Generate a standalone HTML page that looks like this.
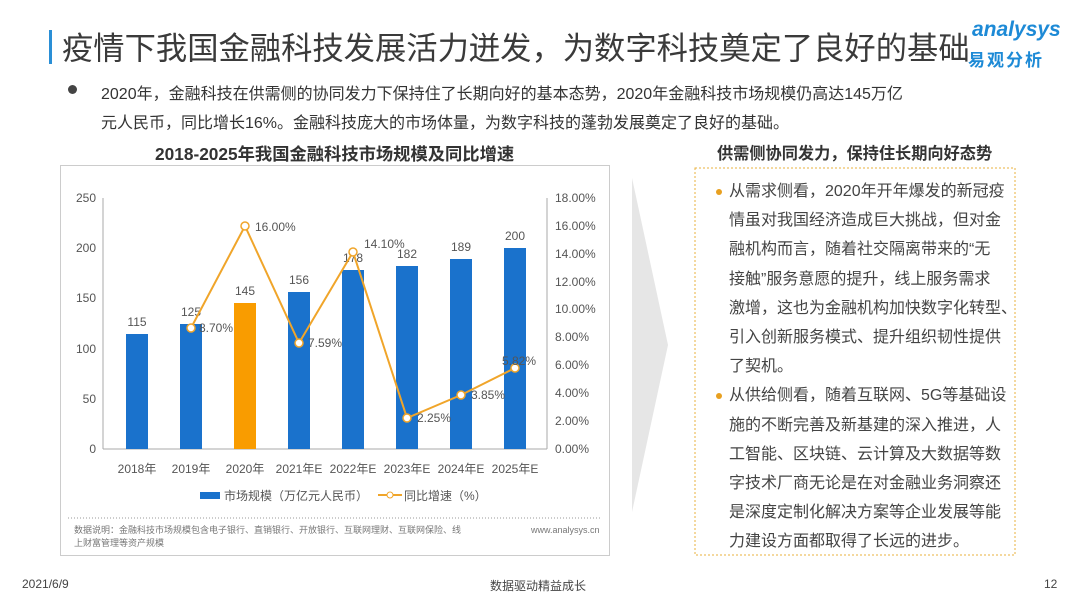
<!DOCTYPE html>
<html><head><meta charset="utf-8"><style>
body{margin:0;width:1080px;height:608px;background:#fff;position:relative;overflow:hidden;font-family:"Liberation Sans","Noto Sans CJK SC",sans-serif;color:#333}
.a{position:absolute;white-space:nowrap}
</style></head><body>
<div class="a" style="left:49px;top:30px;width:3px;height:34px;background:#2a8fd6"></div>
<div class="a" style="left:62px;top:24px;font-size:31.3px;color:#3a3a3a">疫情下我国金融科技发展活力迸发，为数字科技奠定了良好的基础</div>
<div class="a" style="left:972px;top:18px;font-size:21px;font-style:italic;color:#1d8ad6;font-weight:bold">analysys</div>
<div class="a" style="left:968px;top:46px;font-size:17px;color:#1d8ad6;font-weight:bold;letter-spacing:2px">易观分析</div>
<div class="a" style="left:68px;top:85px;width:9px;height:9px;border-radius:50%;background:#444"></div>
<div class="a" style="left:101px;top:80px;font-size:16px;line-height:29px;color:#333">2020年，金融科技在供需侧的协同发力下保持住了长期向好的基本态势，2020年金融科技市场规模仍高达145万亿<br>元人民币，同比增长16%。金融科技庞大的市场体量，为数字科技的蓬勃发展奠定了良好的基础。</div>
<div class="a" style="left:155px;top:140px;font-size:17.3px;font-weight:bold;color:#333">2018-2025年我国金融科技市场规模及同比增速</div>
<div class="a" style="left:60px;top:165px;width:548px;height:389px;border:1px solid #ccc"></div>
<svg class="a" style="left:0;top:0" width="1080" height="608">
<polygon points="632,178 668,345 632,512" fill="#e6e6e6"/>
<g font-family="Liberation Sans,sans-serif" font-size="12" fill="#555">
<line x1="103" y1="198" x2="103" y2="449" stroke="#aaa"/>
<line x1="547" y1="198" x2="547" y2="449" stroke="#aaa"/>
<line x1="103" y1="449" x2="547" y2="449" stroke="#aaa"/>
<g text-anchor="end"><text x="96" y="453">0</text><text x="96" y="403">50</text><text x="96" y="353">100</text><text x="96" y="302">150</text><text x="96" y="252">200</text><text x="96" y="202">250</text></g>
<g><text x="555" y="453">0.00%</text><text x="555" y="425">2.00%</text><text x="555" y="397">4.00%</text><text x="555" y="369">6.00%</text><text x="555" y="341">8.00%</text><text x="555" y="313">10.00%</text><text x="555" y="286">12.00%</text><text x="555" y="258">14.00%</text><text x="555" y="230">16.00%</text><text x="555" y="202">18.00%</text></g>
<g fill="#1a72cc">
<rect x="126" y="334" width="22" height="115"/><rect x="180" y="324" width="22" height="125"/>
<rect x="234" y="303" width="22" height="146" fill="#f99c00"/>
<rect x="288" y="292" width="22" height="157"/><rect x="342" y="270" width="22" height="179"/>
<rect x="396" y="266" width="22" height="183"/><rect x="450" y="259" width="22" height="190"/><rect x="504" y="248" width="22" height="201"/></g>
<g text-anchor="middle"><text x="137" y="326">115</text><text x="191" y="316">125</text><text x="245" y="295">145</text><text x="299" y="284">156</text><text x="353" y="262">178</text><text x="407" y="258">182</text><text x="461" y="251">189</text><text x="515" y="240">200</text>
<text x="137" y="473">2018年</text><text x="191" y="473">2019年</text><text x="245" y="473">2020年</text><text x="299" y="473">2021年E</text><text x="353" y="473">2022年E</text><text x="407" y="473">2023年E</text><text x="461" y="473">2024年E</text><text x="515" y="473">2025年E</text></g>
<polyline points="191,328 245,226 299,343 353,252 407,418 461,395 515,368" fill="none" stroke="#f0a52a" stroke-width="2"/>
<g fill="#fff" stroke="#f0a52a" stroke-width="1.5"><circle cx="191" cy="328" r="4"/><circle cx="245" cy="226" r="4"/><circle cx="299" cy="343" r="4"/><circle cx="353" cy="252" r="4"/><circle cx="407" cy="418" r="4"/><circle cx="461" cy="395" r="4"/><circle cx="515" cy="368" r="4"/></g>
<text x="199" y="332">8.70%</text><text x="255" y="231">16.00%</text><text x="308" y="347">7.59%</text><text x="364" y="248">14.10%</text><text x="417" y="422">2.25%</text><text x="471" y="399">3.85%</text><text x="502" y="365">5.82%</text>
<rect x="200" y="492" width="20" height="7" fill="#1a72cc"/><text x="224" y="500">市场规模（万亿元人民币）</text>
<line x1="378" y1="495" x2="402" y2="495" stroke="#f0a52a" stroke-width="2"/><circle cx="390" cy="495" r="3" fill="#fff" stroke="#f0a52a"/><text x="404" y="500">同比增速（%）</text>
<line x1="68" y1="518" x2="602" y2="518" stroke="#999" stroke-dasharray="1,2"/>
<text x="74" y="533" font-size="9" fill="#777">数据说明：金融科技市场规模包含电子银行、直销银行、开放银行、互联网理财、互联网保险、线</text>
<text x="74" y="546" font-size="9" fill="#777">上财富管理等资产规模</text>
<text x="531" y="533" font-size="9" fill="#777">www.analysys.cn</text>
</g>
<rect x="695" y="168" width="320" height="387" fill="none" stroke="#e8b23c" stroke-dasharray="2,2"/>
</svg>
<div class="a" style="left:717px;top:140px;font-size:16.2px;font-weight:bold;color:#333">供需侧协同发力，保持住长期向好态势</div>
<div class="a" style="left:716px;top:189px;width:6px;height:6px;border-radius:50%;background:#e8a020"></div>
<div class="a" style="left:716px;top:393px;width:6px;height:6px;border-radius:50%;background:#e8a020"></div>
<div class="a" style="left:729px;top:177px;font-size:16px;line-height:29.2px;color:#444">从需求侧看，2020年开年爆发的新冠疫<br>情虽对我国经济造成巨大挑战，但对金<br>融机构而言，随着社交隔离带来的“无<br>接触”服务意愿的提升，线上服务需求<br>激增，这也为金融机构加快数字化转型、<br>引入创新服务模式、提升组织韧性提供<br>了契机。<br>从供给侧看，随着互联网、5G等基础设<br>施的不断完善及新基建的深入推进，人<br>工智能、区块链、云计算及大数据等数<br>字技术厂商无论是在对金融业务洞察还<br>是深度定制化解决方案等企业发展等能<br>力建设方面都取得了长远的进步。</div>
<div class="a" style="left:22px;top:577px;font-size:12px;color:#444">2021/6/9</div>
<div class="a" style="left:490px;top:577px;font-size:12px;color:#444">数据驱动精益成长</div>
<div class="a" style="left:1044px;top:577px;font-size:12px;color:#444">12</div>
</body></html>
